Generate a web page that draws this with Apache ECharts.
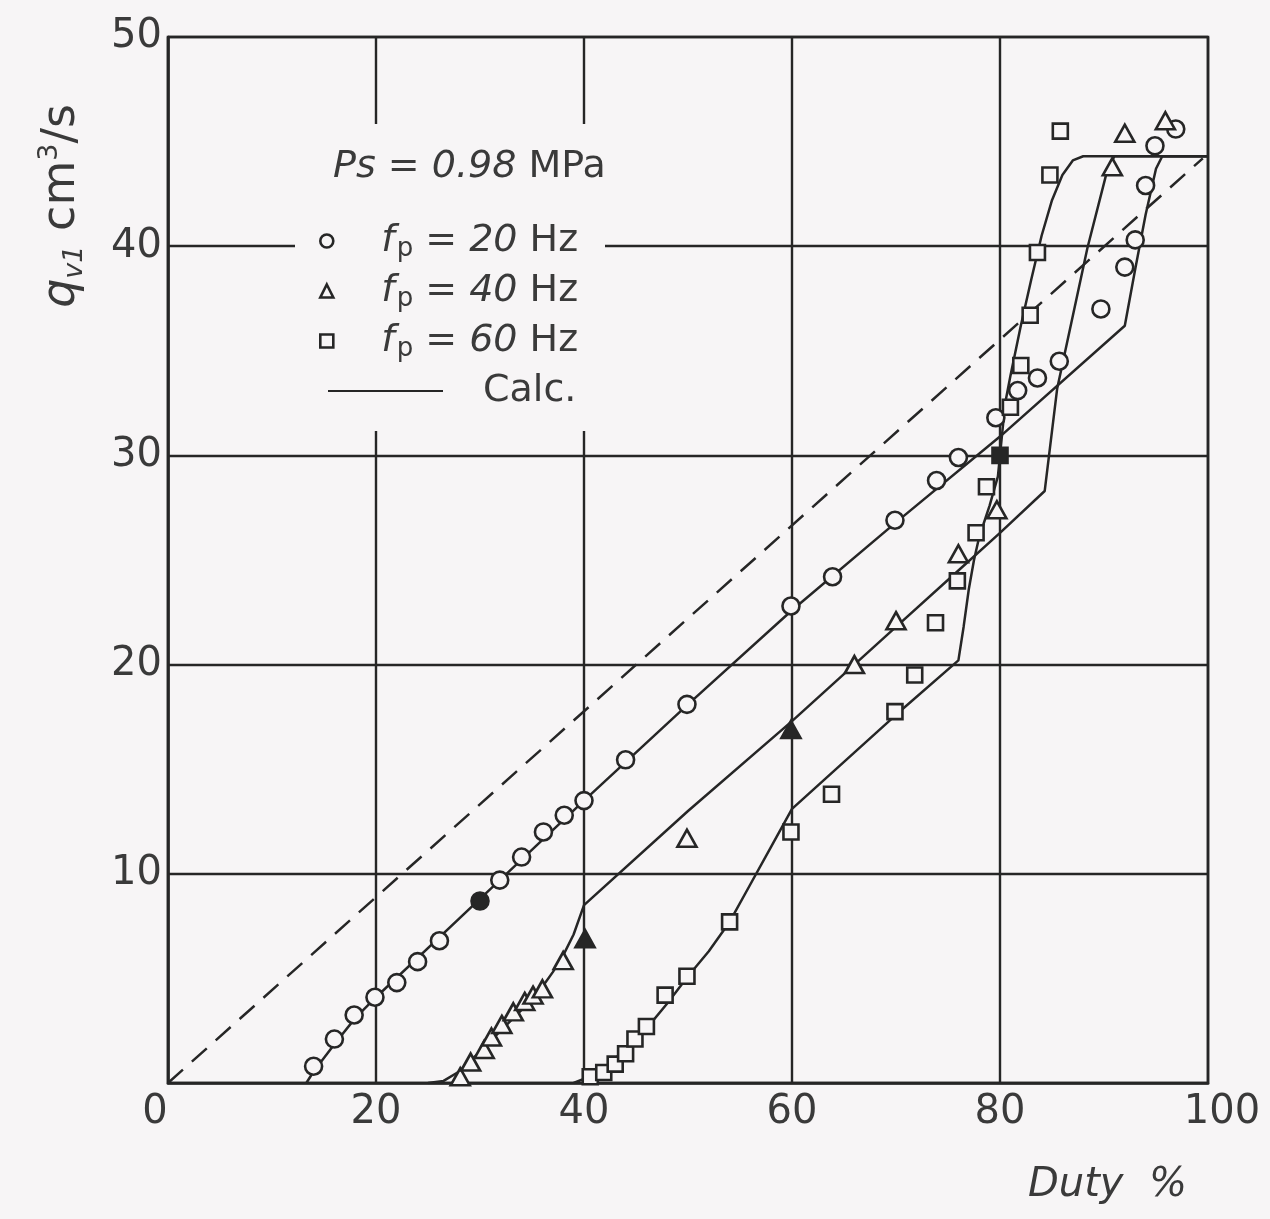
<!DOCTYPE html>
<html>
<head>
<meta charset="utf-8">
<script src="https://cdn.jsdelivr.net/npm/echarts@6/dist/echarts.min.js"></script>
<style>
  html, body { margin: 0; padding: 0; background: #f7f5f6; }
  #chart { width: 1270px; height: 1219px; }
</style>
</head>
<body>
<div id="chart"></div>
<script>
// ---------- data ----------
const xTicks = [0, 20, 40, 60, 80, 100];
const yTicks = [0, 10, 20, 30, 40, 50];

const legendNames = ['fp = 20 Hz', 'fp = 40 Hz', 'fp = 60 Hz', 'Calc.'];
const legendFreqs = ['20', '40', '60'];
const headerPressure = '0.98';

// measured points  [duty %, q_v1 cm^3/s]
const meas20 = [[14,0.8],[16,2.1],[17.9,3.25],[19.9,4.1],[22,4.8],[24,5.8],[26.1,6.8],[30,8.7],[31.9,9.7],[34,10.8],
  [36.1,12.0],[38.1,12.8],[40,13.5],[44,15.45],[49.9,18.1],[59.9,22.8],[63.9,24.2],[69.9,26.9],[73.9,28.8],[76,29.9],
  [79.6,31.8],[81.7,33.1],[83.6,33.7],[85.7,34.5],[89.7,37.0],[92,39.0],[93,40.3],[94,42.9],[94.9,44.8],[96.9,45.6]];
const meas40 = [[28.1,0.3],[29.1,1.0],[30.4,1.6],[31.1,2.2],[32.1,2.8],[33.2,3.4],[34.3,3.9],[35.1,4.2],[36,4.5],[38,5.85],
  [40.1,6.9],[49.9,11.7],[59.9,16.9],[66,20.0],[70,22.1],[76,25.3],[79.7,27.4],[90.8,43.8],[92,45.4],[95.9,46.0]];
const meas60 = [[40.6,0.3],[41.9,0.5],[43,0.9],[44,1.4],[44.9,2.1],[46,2.7],[47.8,4.2],[49.9,5.1],[54,7.7],[59.9,12.0],
  [63.8,13.8],[69.9,17.75],[71.8,19.5],[73.8,22.0],[75.9,24.0],[77.7,26.3],[78.7,28.5],[80,30.0],[81,32.3],[82,34.3],
  [82.9,36.7],[83.6,39.7],[84.8,43.4],[85.8,45.5]];

// calculated curves
const calc20 = [[13.3,0],[14,0.55],[16,1.85],[18,3.1],[20,4.1],[30,8.8],[40,13.5],[50,18.1],[60,22.6],[70,26.8],[80,30.9],
  [92,36.2],[93,38.9],[94,41.5],[95,43.7],[95.6,44.3],[100,44.3]];
const calc40 = [[25,0],[26.5,0.1],[28,0.55],[30,1.5],[32,2.5],[34,3.5],[36,4.6],[37,5.3],[38,6.1],[39,7.1],[40,8.5],
  [50,13.0],[60,17.3],[70,21.8],[76,24.5],[80,26.3],[84.3,28.3],[85.5,33.2],[88.4,39.9],[90.3,43.6],[91,44.3],[100,44.3]];
const calc60 = [[39,0],[41,0.4],[42,0.75],[44,1.6],[46,2.6],[48,3.8],[50,5.1],[52,6.3],[54,7.7],[56,9.5],[58,11.3],[60,13.1],
  [70,17.6],[76,20.2],[76.5,21.8],[77,23.6],[77.5,25.0],[78,26.1],[79,27.6],[79.8,29.0],[80.2,31.0],[80.5,32.5],[81,33.8],
  [82,36.2],[83,38.4],[84,40.5],[85,42.2],[86,43.4],[87,44.1],[88,44.3],[100,44.3]];
const idealLine = [[0,0],[99.5,44.2]];

// ---------- styling ----------
const PAPER = '#f7f5f6';
const INK = '#262626';
const TXT = '#3a3a3a';
const FONT = 'DejaVu Sans';
// markers that look solid in the scan (index into the measured arrays)
const solid = { m20: [7], m40: [10, 12], m60: [17] };

function hollow(key) {
  return {
    color: p => solid[key].indexOf(p.dataIndex) >= 0 ? INK : PAPER,
    borderColor: INK,
    borderWidth: 2.6,
    opacity: 1
  };
}
const legendMarkStyle = { color: PAPER, borderColor: INK, borderWidth: 2.6, opacity: 1 };

const legendRich = {
  sp: { width: 43 },
  f: { fontFamily: FONT, fontStyle: 'italic', fontSize: 38, color: TXT, lineHeight: 42 },
  p: { fontFamily: FONT, fontSize: 26, color: TXT, verticalAlign: 'bottom', lineHeight: 26, padding: [0, 0, 0, 2] },
  u: { fontFamily: FONT, fontSize: 38, color: TXT, lineHeight: 42 },
  n: { fontFamily: FONT, fontStyle: 'italic', fontSize: 38, color: TXT, lineHeight: 42 },
  sp2: { width: 35 }
};

const chart = echarts.init(document.getElementById('chart'), null, { renderer: 'canvas' });

const option = {
  backgroundColor: PAPER,
  animation: false,
  grid: {
    left: 168, right: 62, top: 37, bottom: 136,
    show: true, borderColor: INK, borderWidth: 2.6, backgroundColor: 'transparent'
  },
  xAxis: {
    type: 'value', min: xTicks[0], max: xTicks[xTicks.length - 1], interval: 20,
    axisLine: { lineStyle: { color: INK, width: 2.6 } },
    axisTick: { show: false },
    splitLine: { lineStyle: { color: INK, width: 2.4 } },
    axisLabel: {
      margin: 10, fontFamily: FONT, fontSize: 40, color: TXT,
      formatter: v => v === xTicks[0] ? '{l|' + v + '}' : (v === xTicks[xTicks.length - 1] ? '{r|' + v + '}' : String(v)),
      rich: {
        l: { fontFamily: FONT, fontSize: 40, color: TXT, padding: [0, 26, 0, 0] },
        r: { fontFamily: FONT, fontSize: 40, color: TXT, padding: [0, 0, 0, 28] }
      }
    }
  },
  yAxis: {
    type: 'value', min: yTicks[0], max: yTicks[yTicks.length - 1], interval: 10,
    axisLine: { show: true, lineStyle: { color: INK, width: 2.6 } },
    axisTick: { show: false },
    splitLine: { lineStyle: { color: INK, width: 2.4 } },
    axisLabel: { margin: 6, fontFamily: FONT, fontSize: 40, color: TXT, showMinLabel: false }
  },
  legend: [
    {
      data: legendNames.slice(0, 3).map(n => ({ name: n, itemStyle: legendMarkStyle })),
      orient: 'vertical', left: 314, top: 217,
      itemWidth: 13, itemHeight: 13, itemGap: 10,
      selectedMode: false,
      textStyle: { rich: legendRich },
      formatter: name => {
        const i = legendNames.indexOf(name);
        return '{sp|}{f|f}{p|p}{u| = }{n|' + legendFreqs[i] + '}{u| Hz}';
      }
    },
    {
      data: [{ name: legendNames[3], itemStyle: { opacity: 0 } }],
      orient: 'vertical', left: 322, top: 367,
      itemWidth: 115, itemHeight: 14,
      selectedMode: false,
      textStyle: { rich: legendRich },
      formatter: name => '{sp2|}{u|' + name + '}'
    }
  ],
  graphic: {
    elements: [
      { type: 'rect', z: 3, shape: { x: 295, y: 124, width: 310, height: 307 }, style: { fill: PAPER } },
      {
        type: 'text', z: 5, left: 333, top: 148,
        style: {
          text: '{i|Ps}{u| = }{i|' + headerPressure + '}{u| MPa}',
          rich: {
            i: { fontFamily: FONT, fontStyle: 'italic', fontSize: 38, fill: TXT },
            u: { fontFamily: FONT, fontSize: 38, fill: TXT }
          }
        }
      },
      {
        type: 'text', z: 5, x: 62, y: 206, rotation: Math.PI / 2,
        style: {
          text: '{q|q}{s|v1}{u| cm}{e|3}{u|/s}',
          align: 'center', verticalAlign: 'middle',
          rich: {
            q: { fontFamily: FONT, fontStyle: 'italic', fontSize: 46, fill: TXT, lineHeight: 52 },
            s: { fontFamily: FONT, fontStyle: 'italic', fontSize: 27, fill: TXT, verticalAlign: 'bottom', lineHeight: 27 },
            u: { fontFamily: FONT, fontSize: 46, fill: TXT, lineHeight: 52 },
            e: { fontFamily: FONT, fontSize: 27, fill: TXT, verticalAlign: 'top', lineHeight: 27 }
          }
        }
      },
      {
        type: 'text', z: 5, left: 1028, top: 1166,
        style: {
          text: '{i|Duty}{u|  %}',
          rich: {
            i: { fontFamily: FONT, fontStyle: 'italic', fontSize: 40, fill: TXT },
            u: { fontFamily: FONT, fontStyle: 'italic', fontSize: 40, fill: TXT }
          }
        }
      }
    ]
  },
  series: [
    { name: 'ideal', type: 'line', data: idealLine, symbol: 'none', silent: true,
      itemStyle: { color: INK }, lineStyle: { color: INK, width: 2.5, type: [20, 12] }, z: 2 },
    { name: legendNames[3], type: 'line', data: calc20, symbol: 'none', itemStyle: { color: INK }, lineStyle: { color: INK, width: 2.5 }, z: 2 },
    { name: legendNames[3], type: 'line', data: calc40, symbol: 'none', itemStyle: { color: INK }, lineStyle: { color: INK, width: 2.5 }, z: 2 },
    { name: legendNames[3], type: 'line', data: calc60, symbol: 'none', itemStyle: { color: INK }, lineStyle: { color: INK, width: 2.5 }, z: 2 },
    { name: legendNames[0], type: 'scatter', data: meas20, symbol: 'circle', symbolSize: 17, itemStyle: hollow('m20'), z: 4 },
    { name: legendNames[1], type: 'scatter', data: meas40, symbol: 'triangle', symbolSize: [19, 17], itemStyle: hollow('m40'), z: 4 },
    { name: legendNames[2], type: 'scatter', data: meas60, symbol: 'rect', symbolSize: 15, itemStyle: hollow('m60'), z: 4 }
  ]
};

chart.setOption(option);
</script>
</body>
</html>
